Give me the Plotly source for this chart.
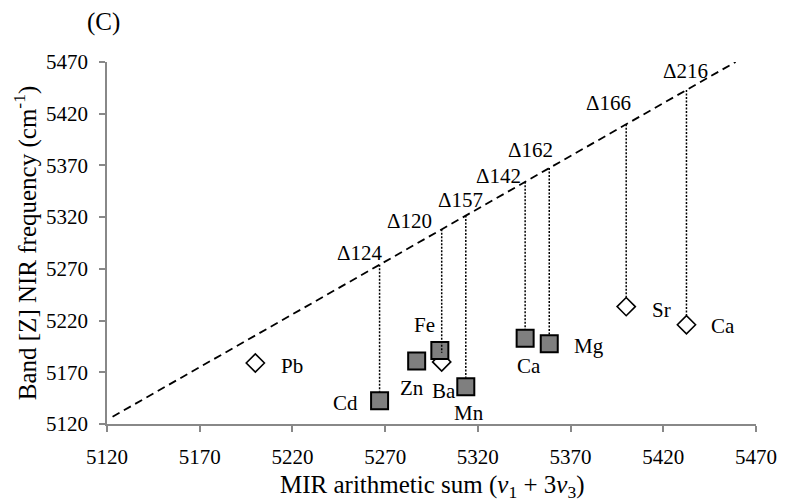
import numpy as np
import plotly.graph_objects as go

# ---------------- data ----------------
sq_names = ["Cd", "Zn", "Fe", "Mn", "Ca", "Mg"]
sq_x = [5267.0, 5287.0, 5299.5, 5313.5, 5345.5, 5358.5]
sq_y = [5142.5, 5181.0, 5191.0, 5156.0, 5203.0, 5197.5]

dia_names = ["Pb", "Ba", "Sr", "Ca"]
dia_x = [5200.0, 5300.5, 5400.0, 5432.5]
dia_y = [5179.0, 5180.0, 5233.5, 5216.0]

fit_x = [5123.0, 5459.0]
fit_y = [5127.0, 5470.0]

delta_labels = ["Δ124", "Δ120", "Δ157", "Δ142", "Δ162", "Δ166", "Δ216"]
delta_x = [5267.0, 5300.5, 5313.5, 5345.5, 5358.5, 5400.0, 5432.5]
delta_y = [5142.5, 5180.0, 5156.0, 5203.0, 5197.5, 5233.5, 5216.0]
delta_kind = ["sq", "dia", "sq", "sq", "sq", "dia", "dia"]

x_ticks = [5120, 5170, 5220, 5270, 5320, 5370, 5420, 5470]
y_ticks = [5120, 5170, 5220, 5270, 5320, 5370, 5420, 5470]

# ---------------- style ----------------
W, H = 789, 504
M = dict(l=107, r=24, t=62, b=80)
FONT = "Liberation Serif, Times New Roman, serif"
SQ_SIZE, DIA_SIZE = 17, 14
plot_h = H - M["t"] - M["b"]
y_per_px = (y_ticks[-1] - y_ticks[0]) / plot_h
half_px = {"sq": SQ_SIZE / 2 + 0.5, "dia": DIA_SIZE / 2 * 1.3}

# label offsets (px) relative to marker centre
sq_off = [(-34, 2), (-5, 27), (-15, -26), (3, 26), (4, 28), (40, 2)]
dia_off = [(37, 3), (2, 29), (35, 3), (37, 1)]
# delta label offsets (px) relative to top of dotted line
delta_off = [(-20, -12), (-32, -8), (-5, -16), (-27, -6), (-19, -18), (-18, -21), (-1, -19)]

fig = go.Figure()

# dashed reference line
fig.add_trace(go.Scatter(x=fit_x, y=fit_y, mode="lines",
                         line=dict(color="black", width=1.8, dash="8px,5px"),
                         hoverinfo="skip", showlegend=False))

fig.add_trace(go.Scatter(x=dia_x, y=dia_y, mode="markers",
                         marker=dict(symbol="diamond", size=DIA_SIZE, color="white",
                                     line=dict(color="black", width=1.6)),
                         hoverinfo="skip", showlegend=False))
fig.add_trace(go.Scatter(x=sq_x, y=sq_y, mode="markers",
                         marker=dict(symbol="square", size=SQ_SIZE, color="#7f7f7f",
                                     line=dict(color="black", width=2)),
                         hoverinfo="skip", showlegend=False))

# dotted drop lines from dashed line down to each point
tops = np.interp(delta_x, fit_x, fit_y)
for xv, yv, top, kind in zip(delta_x, delta_y, tops, delta_kind):
    bottom = yv + half_px[kind] * y_per_px
    fig.add_trace(go.Scatter(x=[xv, xv], y=[top, bottom], mode="lines",
                             line=dict(color="black", width=1.5, dash="2px,1.5px"),
                             hoverinfo="skip", showlegend=False))

annotations = []
for lab, xv, top, (dx, dy) in zip(delta_labels, delta_x, tops, delta_off):
    annotations.append(dict(x=xv, y=top, xref="x", yref="y", text=lab, showarrow=False,
                            xshift=dx, yshift=-dy, xanchor="center", yanchor="middle",
                            font=dict(family=FONT, size=21, color="black")))
for names, xs, ys, offs in ((sq_names, sq_x, sq_y, sq_off), (dia_names, dia_x, dia_y, dia_off)):
    for lab, xv, yv, (dx, dy) in zip(names, xs, ys, offs):
        annotations.append(dict(x=xv, y=yv, xref="x", yref="y", text=lab, showarrow=False,
                                xshift=dx, yshift=-dy, xanchor="center", yanchor="middle",
                                font=dict(family=FONT, size=21, color="black")))

annotations.append(dict(x=0.5, y=-0.172, xref="paper", yref="paper",
                        text="MIR arithmetic sum (<i>v</i><sub>1</sub> + 3<i>v</i><sub>3</sub>)",
                        showarrow=False, xanchor="center", yanchor="middle",
                        font=dict(family=FONT, size=25, color="black")))
annotations.append(dict(x=-0.126, y=0.5, xref="paper", yref="paper",
                        text="Band [Z] NIR frequency (cm<sup>-1</sup>)", textangle=-90,
                        showarrow=False, xanchor="center", yanchor="middle",
                        font=dict(family=FONT, size=25, color="black")))
annotations.append(dict(x=-0.005, y=1.111, xref="paper", yref="paper", text="(C)",
                        showarrow=False, xanchor="center", yanchor="middle",
                        font=dict(family=FONT, size=25, color="black")))

axis_common = dict(showgrid=False, zeroline=False, showline=True, linecolor="#888888",
                   linewidth=1.6, ticks="outside", ticklen=6, tickwidth=1.6, tickcolor="#888888",
                   ticklabelstandoff=7,
                   tickfont=dict(family=FONT, size=21, color="black"), mirror=False)

fig.update_layout(
    width=W, height=H, margin=M,
    paper_bgcolor="white", plot_bgcolor="white",
    xaxis=dict(range=[x_ticks[0], x_ticks[-1]], tickvals=x_ticks, **axis_common),
    yaxis=dict(range=[y_ticks[0], y_ticks[-1]], tickvals=y_ticks, **axis_common),
    annotations=annotations,
    showlegend=False,
)

fig.write_html("out.html", config={"displayModeBar": False},
               post_script="document.body.style.margin='0px';document.body.style.overflow='hidden';")
